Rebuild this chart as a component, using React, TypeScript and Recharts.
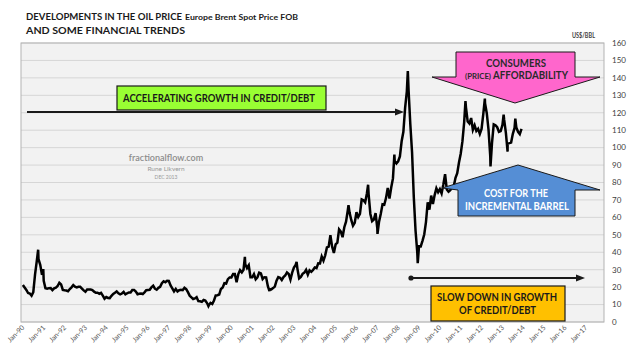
import React from 'react'
import { ComposedChart, Line, XAxis, YAxis, CartesianGrid } from 'recharts'

// Europe Brent spot price FOB, monthly averages (US$/bbl)
const b1990 = [21.25, 19.81, 18.39, 16.61, 16.35, 15.1, 17.17, 27.17, 34.9, 36.02, 32.82, 27.01]
const b1991 = [23.6, 19.33, 19.04, 19.39, 19.45, 18.31, 19.33, 19.74, 20.61, 22.51, 21.59, 18.42]
const b1992 = [18.16, 18.05, 17.63, 18.92, 19.89, 21.16, 20.22, 19.83, 20.17, 20.17, 19.19, 18.13]
const b1993 = [17.37, 18.6, 18.69, 18.64, 18.28, 17.4, 16.79, 16.81, 16.21, 16.69, 15.09, 13.36]
const b1994 = [14.29, 13.81, 13.7, 15.03, 16.13, 16.77, 17.56, 16.49, 15.86, 16.34, 17.24, 15.85]
const b1995 = [16.49, 16.96, 16.88, 18.38, 18.39, 17.4, 15.88, 16.15, 16.36, 16.04, 17.01, 18.23]
const b1996 = [18.34, 18.46, 19.94, 20.83, 19.09, 18.51, 19.59, 20.18, 22.3, 23.35, 22.78, 23.62]
const b1997 = [23.52, 20.93, 19.32, 17.52, 19.0, 17.55, 18.23, 18.45, 18.24, 19.6, 18.85, 17.09]
const b1998 = [15.1, 14.14, 13.19, 13.51, 14.26, 11.97, 11.88, 11.56, 12.58, 12.23, 10.86, 9.55]
const b1999 = [10.91, 10.33, 12.36, 15.24, 15.39, 15.75, 18.94, 19.81, 22.24, 22.08, 24.59, 25.55]
const b2000 = [25.55, 27.47, 27.48, 22.79, 27.46, 29.71, 28.47, 29.99, 33.14, 30.96, 32.55, 25.66]
const b2001 = [25.62, 27.5, 24.5, 25.66, 28.31, 27.85, 24.61, 25.68, 25.62, 20.54, 18.8, 18.71]
const b2002 = [19.42, 20.28, 23.7, 25.73, 25.35, 24.08, 25.74, 26.65, 28.4, 27.54, 24.34, 28.33]
const b2003 = [31.18, 32.77, 30.61, 25.0, 25.86, 27.65, 28.35, 29.89, 27.11, 29.61, 28.75, 29.81]
const b2004 = [31.28, 30.86, 33.63, 33.59, 37.57, 35.18, 38.22, 42.74, 43.2, 49.78, 43.11, 39.6]
const b2005 = [44.51, 45.48, 53.1, 51.88, 48.65, 54.35, 57.52, 63.98, 62.91, 58.54, 55.24, 56.86]
const b2006 = [62.99, 60.21, 62.06, 70.26, 69.78, 68.56, 73.67, 73.23, 61.96, 57.81, 58.76, 62.47]
const b2007 = [53.68, 57.56, 62.05, 67.49, 67.21, 71.05, 76.93, 70.76, 77.17, 82.34, 92.41, 90.93]
const b2008 = [92.18, 94.99, 103.64, 109.07, 122.8, 132.32, 132.72, 113.24, 97.23, 71.58, 52.45, 39.95]
const b2009 = [43.44, 43.32, 46.54, 50.18, 57.3, 68.61, 64.44, 72.51, 67.65, 72.77, 76.66, 74.46]
const b2010 = [76.17, 73.75, 78.83, 84.82, 75.95, 74.76, 75.58, 77.04, 77.84, 82.67, 85.28, 91.45]
const b2011 = [96.52, 103.72, 114.64, 123.26, 114.99, 113.83, 116.97, 110.22, 112.83, 109.55, 110.77, 107.87]
const b2012 = [110.69, 119.33, 125.45, 119.75, 110.34, 95.16, 102.62, 113.36, 112.86, 111.71, 109.06, 109.49]
const b2013 = [112.96, 116.05, 108.47, 102.25, 102.56, 102.92, 107.93, 111.28, 111.6, 109.08, 107.79, 110.76]

const years = [1990, 1991, 1992, 1993, 1994, 1995, 1996, 1997, 1998, 1999, 2000, 2001,
  2002, 2003, 2004, 2005, 2006, 2007, 2008, 2009, 2010, 2011, 2012, 2013]
const monthly = [b1990, b1991, b1992, b1993, b1994, b1995, b1996, b1997, b1998, b1999, b2000, b2001,
  b2002, b2003, b2004, b2005, b2006, b2007, b2008, b2009, b2010, b2011, b2012, b2013]

// daily highs / lows that the monthly averages smooth out: [decimal year, price]
const spikes: [number, number][] = [
  [1990.775, 41.45], [1991.02, 30.3], [1998.94, 9.1], [2000.69, 37.4], [2001.87, 17.7],
  [2003.17, 34.4], [2005.66, 67.0], [2006.6, 78.7], [2007.05, 50.5], [2007.86, 96.0],
  [2008.505, 143.95], [2008.98, 33.73], [2011.27, 126.64], [2012.2, 128.14],
  [2012.47, 89.23], [2013.1, 118.9], [2013.29, 97.7], [2013.66, 116.6]
]

const xTicks = [1990, 1991, 1992, 1993, 1994, 1995, 1996, 1997, 1998, 1999, 2000, 2001, 2002, 2003,
  2004, 2005, 2006, 2007, 2008, 2009, 2010, 2011, 2012, 2013, 2014, 2015, 2016, 2017]
const yTicks = [0, 10, 20, 30, 40, 50, 60, 70, 80, 90, 100, 110, 120, 130, 140, 150, 160]

const priceData = (() => {
  const pts: { t: number; price: number }[] = []
  years.forEach((yr, i) => {
    monthly[i].forEach((v, m) => pts.push({ t: yr + (m + 0.5) / 12, price: v }))
  })
  spikes.forEach(([t, v]) => pts.push({ t, price: v }))
  return pts.sort((a, b) => a.t - b.t)
})()

const FONT = 'Lato, "Open Sans", sans-serif'

const XTick = ({ x, y, payload }: any) => {
  const ax = x + 3
  const ay = y - 2
  return (
    <text
      x={ax}
      y={ay}
      transform={`rotate(-45 ${ax} ${ay})`}
      textAnchor="end"
      fontSize={7}
      fill="#595959"
      fontFamily={FONT}
    >
      {`Jan-${String(payload.value % 100).padStart(2, '0')}`}
    </text>
  )
}

export default function App() {
  return (
    <div style={{ position: 'absolute', left: 0, top: 0, width: 630, height: 354, background: '#fff' }}>
      <ComposedChart
        width={630}
        height={354}
        data={priceData}
        margin={{ top: 43, right: 0, bottom: 0, left: 21 }}
      >
        <CartesianGrid
          vertical={false}
          stroke="#d6d6d6"
          fill="#f2f2f2"
          fillOpacity={1}
          strokeDasharray=""
        />
        <XAxis
          dataKey="t"
          type="number"
          domain={[1989.952, 2017.914]}
          ticks={xTicks}
          interval={0}
          allowDataOverflow
          axisLine={false}
          tickLine={false}
          height={32}
          tick={<XTick />}
        />
        <YAxis
          orientation="right"
          domain={[0, 160]}
          ticks={yTicks}
          interval={0}
          axisLine={false}
          tickLine={false}
          width={26}
          tick={{ fontSize: 8, fill: '#404040', fontFamily: FONT, textAnchor: 'start' }}
        />
        <Line
          type="linear"
          dataKey="price"
          stroke="#000"
          strokeWidth={2.5}
          dot={false}
          isAnimationActive={false}
        />
      </ComposedChart>

      <svg
        width={630}
        height={354}
        style={{ position: 'absolute', left: 0, top: 0, pointerEvents: 'none' }}
        fontFamily={FONT}
      >
        {/* plot border */}
        <rect x={21} y={43} width={583} height={279} fill="none" stroke="#b3b3b3" strokeWidth={1} />

        {/* titles */}
        <text x={26} y={19.5} fontSize={10} fontWeight={700} fill="#1a1a1a" textLength={156} lengthAdjust="spacingAndGlyphs">
          DEVELOPMENTS IN THE OIL PRICE
        </text>
        <text x={185} y={19.5} fontSize={6.8} fontWeight={700} fill="#1a1a1a" textLength={113} lengthAdjust="spacingAndGlyphs">
          Europe Brent Spot Price FOB
        </text>
        <text x={26} y={33.5} fontSize={10} fontWeight={700} fill="#1a1a1a" textLength={159} lengthAdjust="spacingAndGlyphs">
          AND SOME FINANCIAL TRENDS
        </text>
        <text x={572} y={38} fontSize={6.5} fontWeight={700} fill="#404040" textLength={23} lengthAdjust="spacingAndGlyphs">
          US$/BBL
        </text>

        {/* watermark */}
        <text x={166} y={161} fontSize={9} fill="#8c8c8c" textAnchor="middle" fontWeight={600}>fractionalflow.com</text>
        <text x={166} y={171} fontSize={6.5} fill="#999" textAnchor="middle">Rune Likvern</text>
        <text x={166} y={179} fontSize={5} fill="#999" textAnchor="middle">DEC 2013</text>

        {/* accelerating growth arrow */}
        <line x1={27} y1={112} x2={396} y2={112} stroke="#1a1a1a" strokeWidth={2} />
        <polygon points="395,108.5 404,112 395,115.5" fill="#1a1a1a" />
        <rect x={117} y={86} width={209} height={24} fill="#99ff33" stroke="#1a1a1a" strokeWidth={1.2} />
        <text x={123} y={102} fontSize={11} fontWeight={700} fill="#1a1a1a" textLength={192} lengthAdjust="spacingAndGlyphs">
          ACCELERATING GROWTH IN CREDIT/DEBT
        </text>

        {/* consumers affordability (down arrow) */}
        <polygon
          points="456,52 575,52 575,77 600,77 515,103 432,77 456,77"
          fill="#ff66cc"
          stroke="#1a1a1a"
          strokeWidth={1}
          strokeLinejoin="miter"
        />
        <text x={486} y={67} fontSize={10.5} fontWeight={700} fill="#2b2b2b" textLength={60} lengthAdjust="spacingAndGlyphs">
          CONSUMERS
        </text>
        <text x={465} y={79} fontSize={6.5} fontWeight={700} fill="#2b2b2b" textLength={26} lengthAdjust="spacingAndGlyphs">
          (PRICE)
        </text>
        <text x={493} y={79} fontSize={10.5} fontWeight={700} fill="#2b2b2b" textLength={75} lengthAdjust="spacingAndGlyphs">
          AFFORDABILITY
        </text>

        {/* cost for the incremental barrel (up arrow) */}
        <polygon
          points="518,165 600,190 575,190 575,216 458,216 458,190 442,188"
          fill="#558ed5"
          stroke="#1a1a1a"
          strokeWidth={1}
        />
        <text x={484} y={197} fontSize={10.5} fontWeight={700} fill="#fff" textLength={64} lengthAdjust="spacingAndGlyphs">
          COST FOR THE
        </text>
        <text x={465} y={209.5} fontSize={10.5} fontWeight={700} fill="#fff" textLength={104} lengthAdjust="spacingAndGlyphs">
          INCREMENTAL BARREL
        </text>

        {/* slow down arrow */}
        <circle cx={411} cy={278} r={2.6} fill="#1a1a1a" />
        <line x1={411} y1={278} x2={577} y2={278} stroke="#1a1a1a" strokeWidth={2} />
        <polygon points="576,274.5 585,278 576,281.5" fill="#1a1a1a" />
        <rect x={431} y={286} width={134} height={35} fill="#ffc000" stroke="#1a1a1a" strokeWidth={1.2} />
        <text x={437} y={300.5} fontSize={10.5} fontWeight={700} fill="#1a1a1a" textLength={120} lengthAdjust="spacingAndGlyphs">
          SLOW DOWN IN GROWTH
        </text>
        <text x={459} y={313.5} fontSize={10.5} fontWeight={700} fill="#1a1a1a" textLength={77} lengthAdjust="spacingAndGlyphs">
          OF CREDIT/DEBT
        </text>
      </svg>
    </div>
  )
}
